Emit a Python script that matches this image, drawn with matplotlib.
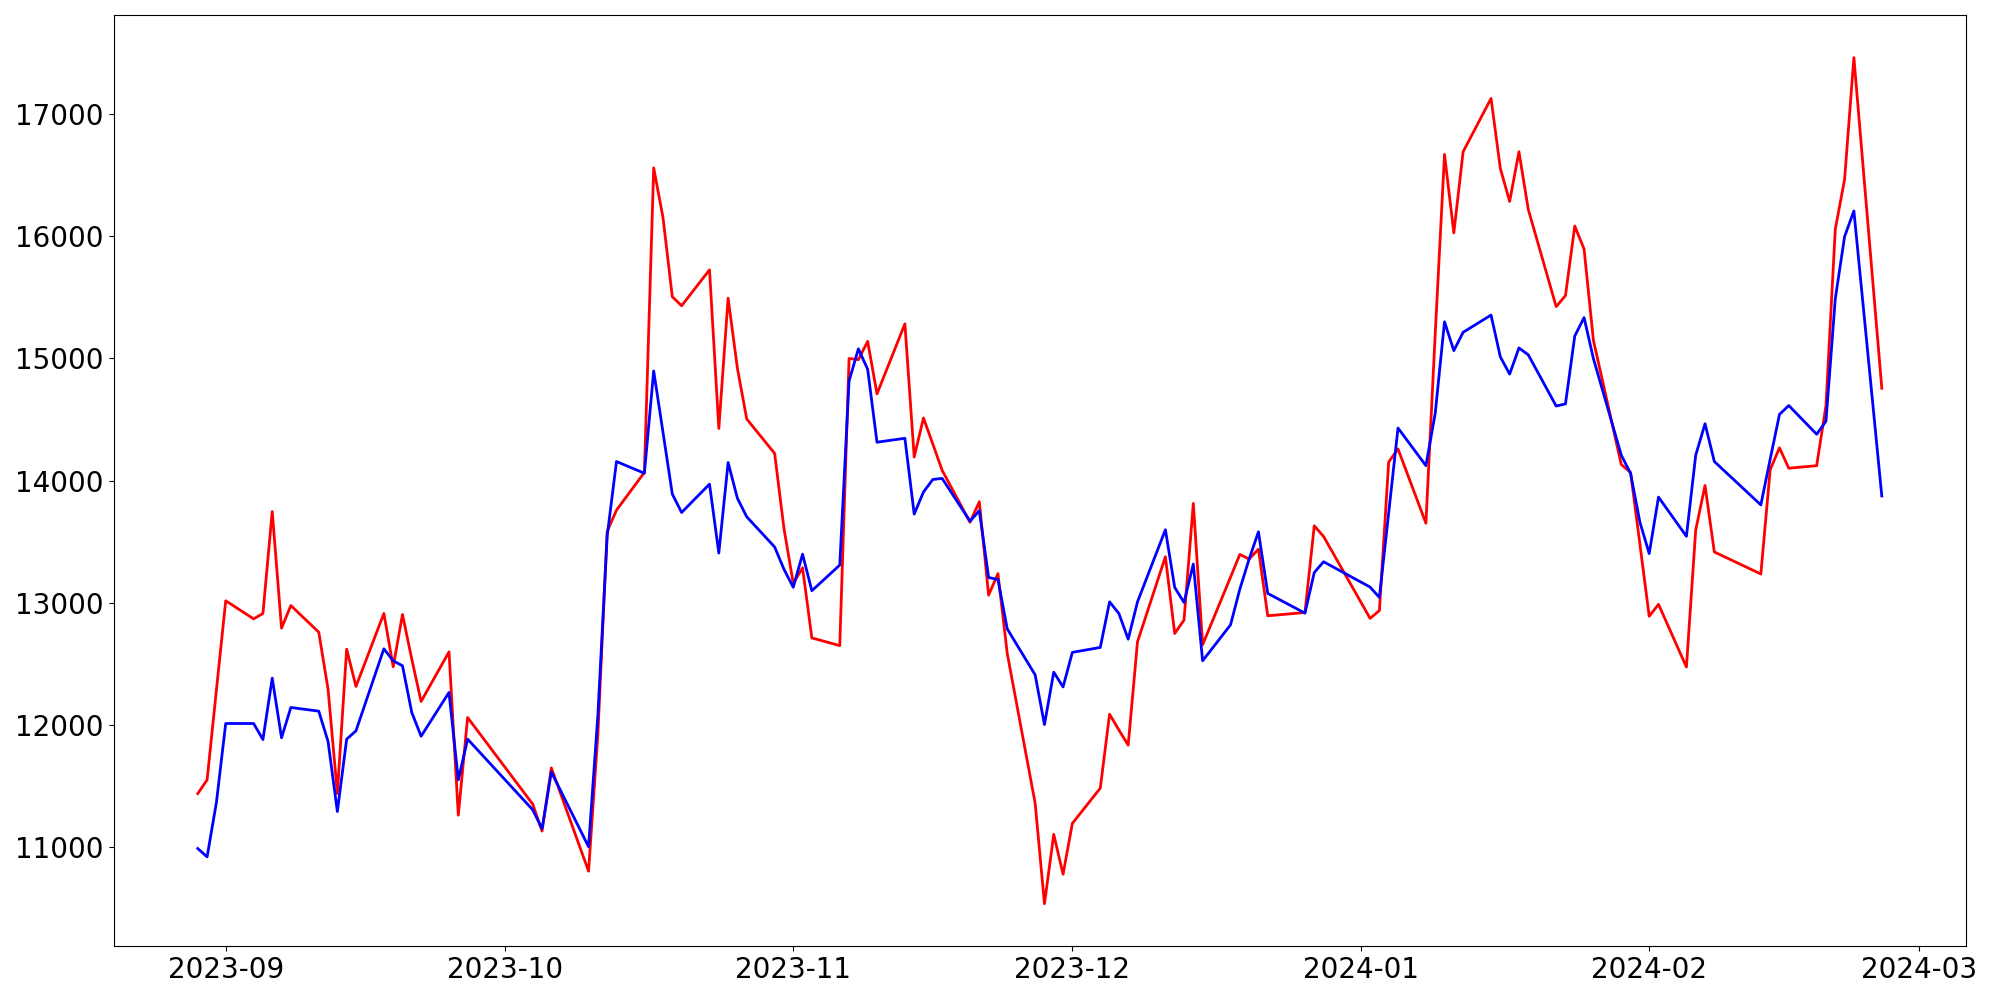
import matplotlib
matplotlib.use("Agg")
import matplotlib.pyplot as plt
import matplotlib.dates as mdates
import pandas as pd

dates = [
    "2023-08-29", "2023-08-30", "2023-08-31",
    "2023-09-01", "2023-09-04", "2023-09-05", "2023-09-06", "2023-09-07", "2023-09-08",
    "2023-09-11", "2023-09-12", "2023-09-13", "2023-09-14", "2023-09-15",
    "2023-09-18", "2023-09-19", "2023-09-20", "2023-09-21", "2023-09-22",
    "2023-09-25", "2023-09-26", "2023-09-27",
    "2023-10-04", "2023-10-05", "2023-10-06",
    "2023-10-10", "2023-10-11", "2023-10-12", "2023-10-13",
    "2023-10-16", "2023-10-17", "2023-10-18", "2023-10-19", "2023-10-20",
    "2023-10-23", "2023-10-24", "2023-10-25", "2023-10-26", "2023-10-27",
    "2023-10-30", "2023-10-31",
    "2023-11-01", "2023-11-02", "2023-11-03",
    "2023-11-06", "2023-11-07", "2023-11-08", "2023-11-09", "2023-11-10",
    "2023-11-13", "2023-11-14", "2023-11-15", "2023-11-16", "2023-11-17",
    "2023-11-20", "2023-11-21", "2023-11-22", "2023-11-23", "2023-11-24",
    "2023-11-27", "2023-11-28", "2023-11-29", "2023-11-30",
    "2023-12-01", "2023-12-04", "2023-12-05", "2023-12-06", "2023-12-07", "2023-12-08",
    "2023-12-11", "2023-12-12", "2023-12-13", "2023-12-14", "2023-12-15",
    "2023-12-18", "2023-12-19", "2023-12-20", "2023-12-21", "2023-12-22",
    "2023-12-26", "2023-12-27", "2023-12-28",
    "2024-01-02", "2024-01-03", "2024-01-04", "2024-01-05",
    "2024-01-08", "2024-01-09", "2024-01-10", "2024-01-11", "2024-01-12",
    "2024-01-15", "2024-01-16", "2024-01-17", "2024-01-18", "2024-01-19",
    "2024-01-22", "2024-01-23", "2024-01-24", "2024-01-25", "2024-01-26",
    "2024-01-29", "2024-01-30", "2024-01-31",
    "2024-02-01", "2024-02-02",
    "2024-02-05", "2024-02-06", "2024-02-07", "2024-02-08",
    "2024-02-13", "2024-02-14", "2024-02-15", "2024-02-16",
    "2024-02-19", "2024-02-20", "2024-02-21", "2024-02-22", "2024-02-23",
    "2024-02-26",
]

red_values = [
    11440, 11552, 12286,
    13017, 12869, 12913, 13747, 12793, 12978,
    12760, 12294, 11440, 12621, 12316,
    12913, 12477, 12905, 12539, 12193,
    12599, 11263, 12062,
    11353, 11133, 11650,
    10805, 11924, 13585, 13758,
    14067, 16558, 16152, 15504, 15430,
    15724, 14426, 15492, 14917, 14504,
    14222, 13610,
    13159, 13286, 12713,
    12650, 14999, 14989, 15139, 14709,
    15282, 14193, 14512, 14299, 14085,
    13659, 13827, 13063, 13239, 12586,
    11361, 10539, 11106, 10780,
    11196, 11484, 12089, 11960, 11836, 12681,
    13377, 12749, 12859, 13813, 12657,
    13210, 13396, 13358, 13439, 12894,
    12921, 13630, 13543,
    12873, 12937, 14152, 14259,
    13651, 15200, 16668, 16026, 16690,
    17126, 16553, 16283, 16690, 16219,
    15423, 15513, 16082, 15894, 15149,
    14131, 14067, 13480,
    12890, 12988,
    12475, 13596, 13960, 13416,
    13236, 14088, 14268, 14101,
    14122, 14614, 16056, 16463, 17460,
    14755,
]

blue_values = [
    10990, 10922, 11367,
    12013, 12013, 11882, 12384, 11896, 12144,
    12114, 11866, 11293, 11885, 11953,
    12624, 12526, 12485, 12103, 11909,
    12267, 11552, 11885,
    11307, 11152, 11616,
    11005, 12079, 13546, 14156,
    14060, 14897, 14395, 13890, 13739,
    13971, 13407, 14148, 13855, 13704,
    13457, 13275,
    13127, 13398, 13099,
    13309, 14814, 15078, 14910, 14314,
    14346, 13726, 13907, 14009, 14018,
    13668, 13754, 13207, 13191, 12787,
    12411, 12004, 12433, 12312,
    12595, 12635, 13008, 12913, 12703, 13008,
    13598, 13126, 13003, 13317, 12526,
    12820, 13112, 13358, 13581, 13077,
    12916, 13248, 13336,
    13129, 13044, 13737, 14430,
    14122, 14550, 15299, 15063, 15213,
    15354, 15012, 14871, 15085, 15029,
    14610, 14627, 15183, 15333, 14999,
    14208, 14058, 13660,
    13403, 13865,
    13544, 14208, 14465, 14156,
    13801, 14174, 14541, 14614,
    14379, 14486, 15487, 15996, 16206,
    13874,
]

x = pd.to_datetime(dates)

fig = plt.figure(figsize=(20, 10), dpi=100)
ax = fig.add_axes([0.0568, 0.054, 0.9262, 0.9307])
ax.plot(x, red_values, color="red", linewidth=2)
ax.plot(x, blue_values, color="blue", linewidth=2)

ax.xaxis.set_major_locator(mdates.MonthLocator())
ax.xaxis.set_major_formatter(mdates.DateFormatter("%Y-%m"))
ax.tick_params(axis="both", labelsize=20)

fig.savefig("out.png", dpi=100)
